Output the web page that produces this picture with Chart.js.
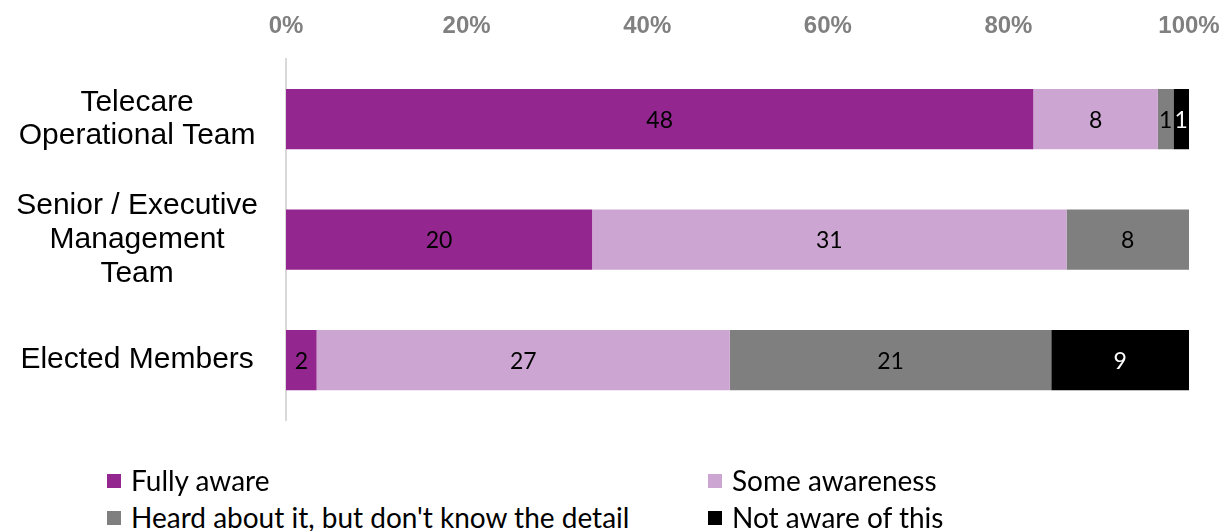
<!DOCTYPE html>
<html>
<head>
<meta charset="utf-8">
<script src="https://cdn.jsdelivr.net/npm/chart.js@4"></script>
<style>
  body { margin: 0; background: #fff; }
  .wrap { position: relative; width: 1227px; height: 531px; }
  .chart-box { position: absolute; left: 0; top: 0; width: 1227px; height: 482px; }
  .legend { position: absolute; left: 107px; top: 462px; width: 1100px; font-family: Lato, "Open Sans", sans-serif; font-size: 28px; color: #000; }
  .legend-item { position: absolute; display: flex; align-items: center; white-space: nowrap; line-height: 37px; }
  .legend-item i { display: inline-block; width: 14px; height: 14px; margin-right: 10px; }
</style>
</head>
<body>
<div class="wrap">
  <div class="chart-box"><canvas id="awarenessChart"></canvas></div>
  <div class="legend" data-legend></div>
</div>
<script>
  const categories = [
    ['Telecare', 'Operational Team'],
    ['Senior / Executive', 'Management', 'Team'],
    'Elected Members'
  ];
  const seriesNames = ['Fully aware', 'Some awareness', "Heard about it, but don't know the detail", 'Not aware of this'];
  const fullyAware = [48, 20, 2];
  const someAwareness = [8, 31, 27];
  const heardAbout = [1, 8, 21];
  const notAware = [1, 0, 9];
  const tickValues = [0, 20, 40, 60, 80, 100];

  const seriesCounts = [fullyAware, someAwareness, heardAbout, notAware];
  const colours = ['#93278f', '#cda5d2', '#7f7f7f', '#000000'];
  const labelColours = ['#000', '#000', '#000', '#fff'];

  const totals = categories.map((_, i) => seriesCounts.reduce((sum, s) => sum + s[i], 0));

  const datasets = seriesCounts.map((counts, k) => ({
    label: seriesNames[k],
    data: counts.map((c, i) => c / totals[i] * 100),
    counts: counts,
    backgroundColor: colours[k],
    borderWidth: 0,
    categoryPercentage: 0.5,
    barPercentage: 1
  }));

  // small inline replacement for the datalabels plugin
  const countLabels = {
    id: 'countLabels',
    afterDatasetsDraw(chart) {
      const ctx = chart.ctx;
      ctx.save();
      ctx.font = '23px Lato, "Open Sans", sans-serif';
      ctx.textAlign = 'center';
      ctx.textBaseline = 'middle';
      chart.data.datasets.forEach((ds, k) => {
        chart.getDatasetMeta(k).data.forEach((bar, i) => {
          const count = ds.counts[i];
          if (!count) return;
          const props = bar.getProps(['x', 'y', 'base'], true);
          ctx.fillStyle = labelColours[k];
          ctx.fillText(String(count), (props.x + props.base) / 2, props.y + 1);
        });
      });
      ctx.restore();
    }
  };

  new Chart(document.getElementById('awarenessChart'), {
    type: 'bar',
    data: { labels: categories, datasets },
    options: {
      indexAxis: 'y',
      responsive: true,
      maintainAspectRatio: false,
      animation: false,
      layout: { padding: { left: 0, right: 0, top: 0, bottom: 19 } },
      plugins: {
        legend: { display: false },
        tooltip: { enabled: false }
      },
      scales: {
        x: {
          position: 'top',
          stacked: true,
          min: 0,
          max: 100,
          afterBuildTicks(scale) {
            scale.ticks = tickValues.map((v) => ({ value: v }));
          },
          afterFit(scale) {
            scale.height = 59;
            scale.paddingLeft = 0;
            scale.paddingRight = 38;
          },
          grid: { display: false, drawTicks: false },
          border: { display: false },
          ticks: {
            padding: 18,
            color: '#808080',
            font: { family: '"Liberation Sans", Arial, sans-serif', size: 24, weight: 'bold' },
            callback: (v) => v + '%'
          }
        },
        y: {
          stacked: true,
          afterFit(scale) { scale.width = 286; },
          grid: { display: false, drawTicks: false },
          border: { display: true, color: '#d9d9d9', width: 2 },
          ticks: {
            crossAlign: 'center',
            padding: 28,
            color: '#000',
            font: { family: '"Liberation Sans", Arial, sans-serif', size: 30, lineHeight: 1.12 }
          }
        }
      }
    },
    plugins: [countLabels]
  });

  const legendBox = document.querySelector('[data-legend]');
  const legendSpots = [[0, 0], [601, 0], [0, 37], [601, 37]];
  legendBox.innerHTML = seriesNames.map((name, k) => `
    <div class="legend-item" style="left:${legendSpots[k][0]}px;top:${legendSpots[k][1]}px">
      <i style="background:${colours[k]}"></i><span>${name}</span>
    </div>
  `).join('');
</script>
</body>
</html>
